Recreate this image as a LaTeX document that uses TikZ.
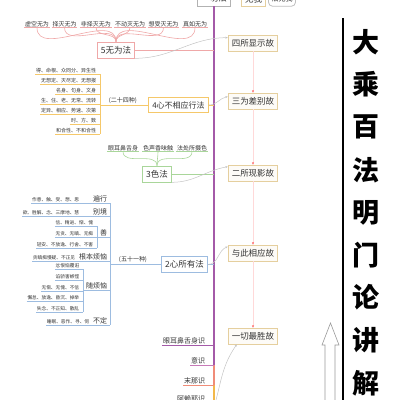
\documentclass[tikz,border=0pt]{standalone}
\usepackage{fontspec}
\setmainfont{Noto Sans CJK SC}
\usetikzlibrary{arrows.meta}

\definecolor{trunkpurple}{HTML}{A45AA8}
\definecolor{wuweired}{HTML}{EFA8A8}
\definecolor{xinorange}{HTML}{F5C86A}
\definecolor{segreen}{HTML}{A9D69A}
\definecolor{suoblue}{HTML}{9DBCE0}
\definecolor{gutan}{HTML}{E5CF9E}
\definecolor{textgray}{HTML}{333333}
\definecolor{curvegray}{HTML}{C4C4C4}
\definecolor{yishipink}{HTML}{C77AB8}
\definecolor{monasalmon}{HTML}{F08C78}
\definecolor{alaiyellow}{HTML}{F2B84B}

\tikzset{
  topic/.style={draw, fill=white, text=textgray, line width=0.8pt, inner xsep=3.5pt, inner ysep=4pt, font=\fontsize{8.5}{9}\selectfont},
  reason/.style={topic, draw=gutan, fill=gutan!8},
  leaf/.style={text=textgray, inner sep=0.6pt, font=\fontsize{6}{6}\selectfont},
  leaffive/.style={leaf, font=\fontsize{5}{5}\selectfont},
  tinyleaf/.style={leaf, font=\fontsize{4.7}{5}\selectfont},
  catleaf/.style={leaf, font=\fontsize{7}{7}\selectfont},
  branch/.style={line width=1pt},
  twig/.style={line width=0.6pt},
  link/.style={curvegray, line width=0.5pt, -{Stealth[length=2.5pt,width=2pt]}},
  chain/.style={red!15, line width=0.7pt, -{Stealth[length=2.5pt,width=2pt,color=red!70]}},
  titlechar/.style={inner sep=0pt, font=\fontsize{27}{27}\selectfont\bfseries},
}

\begin{document}
\begin{tikzpicture}[x=1pt,y=-1pt]
\clip (0,0) rectangle (400,400);

% top of the map
\node[topic, draw=gray!60] (all) at (214,-2) {一切法};
\node[topic, draw=gutan] (wuwo) at (253.5,-1) {无我};
\node[topic, draw=gray!50, rounded corners=4pt, inner xsep=3pt, font=\fontsize{7}{7}\selectfont] (fawuwo) at (282,-1) {法无我};

\coordinate (trunkA) at (214,365);
\coordinate (trunkB) at (214,385);
\coordinate (trunkC) at (214,401);
\draw[trunkpurple, line width=1.5pt] (all.south) -- (trunkA);
\draw[monasalmon, line width=1.5pt] (trunkA) -- (trunkB);
\draw[alaiyellow, line width=1.5pt] (trunkB) -- (trunkC);

% reasons on the right
\node[reason] (four) at (253,43) {四所显示故};
\node[reason] (three) at (253,101) {三为差别故};
\node[reason] (two) at (253,173) {二所现影故};
\node[reason] (yuci) at (253,253) {与此相应故};
\node[reason] (yiqie) at (253,336) {一切最胜故};
\draw[chain] (four.south) -- (three.north);
\draw[chain] (three.south) -- (two.north);
\draw[chain] (two.south) -- (yuci.north);
\draw[chain] (yuci.south) -- (yiqie.north);

% 5 wuwei
\node[topic, draw=wuweired] (wuwei) at (116,50) {5无为法};
\draw[wuweired, branch] (wuwei.east) -- (wuwei.east -| all.south);
\foreach \nm/\x/\txt in {xukong/37/虚空无为, zemie/64.5/择灭无为, feize/96/非择灭无为, budong/130/不动灭无为, xiangshou/163.5/想受灭无为, zhenru/195/真如无为}{
  \node[leaf] (\nm) at (\x,24) {\txt};
  \draw[wuweired, twig] (\nm.south west) -- (\nm.south east);
  \draw[wuweired, twig] (\nm.south) to[out=-90,in=90] (wuwei.north);
}

% 4 xin bu xiangying
\node[topic, draw=xinorange, font=\fontsize{8}{8}\selectfont] (xinbu) at (178.5,105) {4心不相应行法};
\draw[xinorange, branch] (xinbu.east) -- (xinbu.east -| all.south);
\coordinate (bracket24) at (100,105);
\draw[xinorange, branch] (bracket24) -- (xinbu.west);
\node[leaf, anchor=south] (kind24) at (123,104) {(二十四种)};
\foreach \nm/\y/\txt in {de/74/得、命根、众同分、异生性, wuxiangding/84/无想定、灭尽定、无想报, mingshen/94/名身、句身、文身, sheng/104/生、住、老、无常、流转, dingyi/114/定异、相应、势速、次第, shifang/124/时、方、数, hehe/134/和合性、不和合性}{
  \node[leaffive, anchor=south east] (\nm) at (97,\y) {\txt};
  \draw[xinorange, twig] (\nm.south west) -- (\nm.south west -| bracket24);
}
\draw[xinorange, twig] (bracket24 |- de.south) -- (bracket24 |- hehe.south);

% 3 se
\node[topic, draw=segreen] (sefa) at (157,174) {3色法};
\draw[segreen, branch] (sefa.east) -- (sefa.east -| all.south);
\foreach \nm/\x/\txt in {wugen/123/眼耳鼻舌身, wujing/158/色声香味触, fachu/192/法处所摄色}{
  \node[leaf] (\nm) at (\x,148) {\txt};
  \draw[segreen, twig] (\nm.south west) -- (\nm.south east);
  \draw[segreen, twig] (\nm.south) to[out=-90,in=90] (sefa.north);
}

% 2 xin suo you
\node[topic, draw=suoblue] (xinsuo) at (184.5,264.5) {2心所有法};
\draw[suoblue, branch] (xinsuo.east) -- (xinsuo.east -| all.south);
\coordinate (bracket51) at (110,264.5);
\draw[suoblue, branch] (bracket51) -- (xinsuo.west);
\node[leaf, anchor=south] (kind51) at (133,263) {(五十一种)};

\node[catleaf, anchor=south east] (bianxing) at (108,203) {遍行};
\node[tinyleaf, anchor=south east] (bianxingx) at (80,203) {作意、触、受、想、思};
\draw[suoblue, twig] (bianxingx.south west) -- (bianxingx.south west -| bracket51);

\node[catleaf, anchor=south east] (biejing) at (108,216) {别境};
\node[tinyleaf, anchor=south east] (biejingx) at (80,216) {欲、胜解、念、三摩地、慧};
\draw[suoblue, twig] (biejingx.south west) -- (biejingx.south west -| bracket51);

\coordinate (shanbr) at (97,237);
\node[catleaf, anchor=south east] (shan) at (108,237) {善};
\draw[suoblue, twig] (shanbr) -- (shanbr -| bracket51);
\foreach \nm/\y/\txt in {xinjin/226/信、精进、惭、愧, wutan/237/无贪、无瞋、无痴, qingan/248/轻安、不放逸、行舍、不害}{
  \node[tinyleaf, anchor=south east] (\nm) at (94,\y) {\txt};
  \draw[suoblue, twig] (\nm.south west) -- (\nm.south west -| shanbr);
}
\draw[suoblue, twig] (shanbr |- xinjin.south) -- (shanbr |- qingan.south);

\node[catleaf, anchor=south east] (genben) at (108,261) {根本烦恼};
\node[tinyleaf, anchor=south east] (genbenx) at (76,261) {贪瞋痴慢疑、不正见};
\draw[suoblue, twig] (genbenx.south west) -- (genbenx.south west -| bracket51);

\coordinate (suibr) at (83,290);
\node[catleaf, anchor=south east] (sui) at (108,290) {随烦恼};
\draw[suoblue, twig] (suibr) -- (suibr -| bracket51);
\foreach \nm/\y/\txt in {fen/269/忿恨恼覆诳, chan/280/谄骄害嫉悭, wucan/291/无惭、无愧、不信, xiedai/301/懈怠、放逸、昏沉、掉举, shinian/312/失念、不正知、散乱}{
  \node[tinyleaf, anchor=south east] (\nm) at (80,\y) {\txt};
  \draw[suoblue, twig] (\nm.south west) -- (\nm.south west -| suibr);
}
\draw[suoblue, twig] (suibr |- fen.south) -- (suibr |- shinian.south);

\node[catleaf, anchor=south east] (buding) at (108,325) {不定};
\node[tinyleaf, anchor=south east] (budingx) at (90,325) {睡眠、恶作、寻、伺};
\draw[suoblue, twig] (budingx.south west) -- (budingx.south west -| bracket51);
\draw[suoblue, twig] (bracket51 |- bianxing.south) -- (bracket51 |- buding.south);

% 1 xin (the eight consciousnesses)
\node[catleaf, anchor=south east] (qianwu) at (206,345) {眼耳鼻舌身识};
\node[catleaf, anchor=south east] (yishi) at (206,365) {意识};
\node[catleaf, anchor=south east] (mona) at (206,385) {末那识};
\node[catleaf, anchor=south east] (alaiye) at (206,403) {阿赖耶识};
\draw[trunkpurple, twig] (qianwu.south west) -- (qianwu.south west -| all.south);
\draw[yishipink, twig] (yishi.south west) -- (yishi.south west -| all.south);
\draw[monasalmon, twig] (mona.south west) -- (mona.south west -| all.south);
\draw[alaiyellow, twig] (alaiye.south west) -- (alaiye.south west -| all.south);

% relations to the reasons
\coordinate (xinfa) at (215,404);
\draw[link] (wuwei.south east) to[out=0,in=180] ([yshift=-3pt]four.north west);
\draw[link] (xinbu.east) to[out=0,in=190] ([yshift=-4pt]three.north west);
\draw[link] (sefa.south east) to[out=0,in=190] ([yshift=-2pt]two.north west);
\draw[link] (xinsuo.east) to[out=0,in=200] ([yshift=-2pt]yuci.north west);
\draw[link] (xinfa) to[out=75,in=235] ([xshift=9pt]yiqie.south west);

% title
\coordinate (ruletop) at (343,18);
\coordinate (rulebot) at (343,401);
\draw[line width=1.6pt] (ruletop) -- (rulebot);
\foreach \ch [count=\i from 0] in {大,乘,百,法,明,门,论,讲,解}
  \node[titlechar] (title\i) at (366,42+42.6*\i) {\ch};

% hollow arrow
\draw[gray!80, fill=white, line width=0.6pt] (325,402) -- (325,345) -- (322,345) -- (330.5,323) -- (339,345) -- (335,345) -- (335,402);
\end{tikzpicture}
\end{document}
